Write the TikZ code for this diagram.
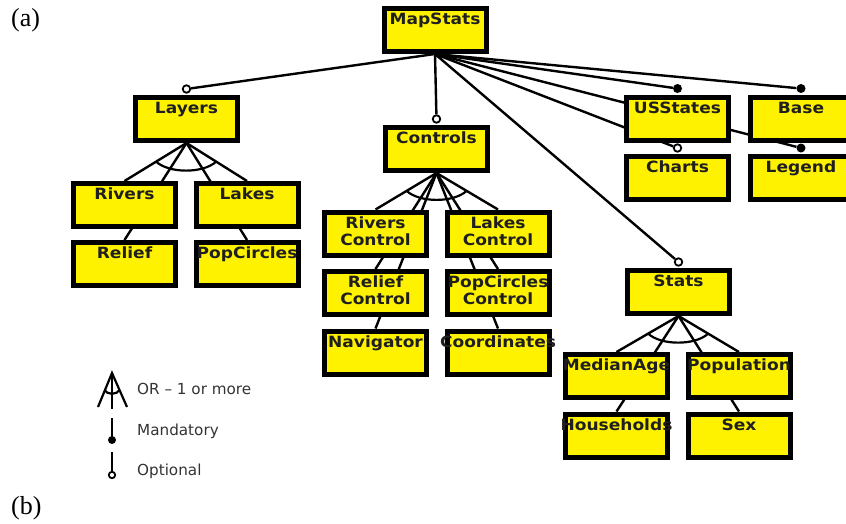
\documentclass[tikz,border=0pt]{standalone}
\usepackage{fontspec}
\setmainfont{DejaVu Sans}
\newfontfamily\boxfont{DejaVu Sans}[FakeStretch=1.1]
\newfontfamily\capfont{Liberation Serif}
\usetikzlibrary{calc}
\pgfdeclarelayer{bg}
\pgfsetlayers{bg,main}
\tikzset{
  feat/.style={draw=black, line width=5pt, fill=yellow, minimum width=102pt,
    minimum height=43pt, inner sep=0pt},
  feattext/.style={anchor=north, inner sep=0pt, align=center,
    font=\boxfont\bfseries\fontsize{15.5}{17}\selectfont, text=black!88},
  conn/.style={line width=2.4pt, black},
  orline/.style={line width=2.2pt, black},
  opt/.style={draw=black, fill=white, line width=1.8pt, circle, inner sep=0pt, minimum size=7.5pt},
  mand/.style={fill=black, circle, inner sep=0pt, minimum size=9pt},
  legtext/.style={anchor=base west, inner sep=0pt, text=black!80,
    font=\fontsize{15.2}{18}\selectfont},
  captext/.style={anchor=base west, inner sep=0pt, font=\capfont\fontsize{26}{30}\selectfont},
}
\newcommand\feature[4]{%
  \node[feat] (#1) at (#2,#3) {};
  \node[feattext] (#1-t) at ([yshift=-4.5pt]#1.north) {\rule{0pt}{14pt}#4};}
\newcommand\orarc[3]{%
  \coordinate (#1-A) at ($(#1.south)!0.49!(#2.north)$);
  \coordinate (#1-B) at ($(#1.south)!0.49!(#3.north)$);
  \draw[orline] (#1-A) .. controls ($(#1-A)+(13,12)$) and ($(#1-B)+(-13,12)$) .. (#1-B);}
\begin{document}
\begin{tikzpicture}[x=1pt,y=-1pt]
\useasboundingbox (0,0) rectangle (846,523);

% feature boxes
\feature{mapstats}{435}{30}{MapStats}
\feature{layers}{186.5}{119}{Layers}
\feature{controls}{436.5}{149}{Controls}
\feature{usstates}{677.5}{118.5}{USStates}
\feature{base}{801}{118.5}{Base}
\feature{charts}{677.5}{178}{Charts}
\feature{legend}{801}{178}{Legend}
\feature{stats}{678.5}{292}{Stats}
\feature{rivers}{124.5}{205}{Rivers}
\feature{lakes}{247}{205}{Lakes}
\feature{relief}{124.5}{264}{Relief}
\feature{popcircles}{247}{264}{PopCircles}
\feature{riversc}{375.5}{233.5}{Rivers\\Control}
\feature{lakesc}{498}{233.5}{Lakes\\Control}
\feature{reliefc}{375.5}{293}{Relief\\Control}
\feature{popcirclesc}{498}{293}{PopCircles\\Control}
\feature{navigator}{375.5}{352.5}{Navigator}
\feature{coordinates}{498}{352.5}{Coordinates}
\feature{medianage}{616.5}{376}{MedianAge}
\feature{population}{739}{376}{Population}
\feature{households}{616.5}{435.5}{Households}
\feature{sex}{739}{435.5}{Sex}

% end markers
\node[opt]  (m-layers)   at ([yshift=6pt]layers.north) {};
\node[opt]  (m-controls) at ([yshift=6pt]controls.north) {};
\node[opt]  (m-stats)    at ([yshift=6pt]stats.north) {};
\node[opt]  (m-charts)   at ([yshift=6pt]charts.north) {};
\node[mand] (m-usstates) at ([yshift=6pt]usstates.north) {};
\node[mand] (m-base)     at ([yshift=6pt]base.north) {};
\node[mand] (m-legend)   at ([yshift=6pt]legend.north) {};

\begin{pgfonlayer}{bg}
  \foreach \c in {layers,controls,stats,charts,usstates,base,legend}
    \draw[conn] (mapstats.south) -- (m-\c);
  \foreach \c in {rivers,relief,lakes,popcircles}
    \draw[conn] (layers.south) -- (\c.north);
  \foreach \c in {riversc,reliefc,navigator,lakesc,popcirclesc,coordinates}
    \draw[conn] (controls.south) -- (\c.north);
  \foreach \c in {medianage,households,population,sex}
    \draw[conn] (stats.south) -- (\c.north);
\end{pgfonlayer}

\orarc{layers}{rivers}{lakes}
\orarc{controls}{riversc}{lakesc}
\orarc{stats}{medianage}{population}

% legend
\draw[orline] (98,407) -- (112,373) -- (127,407);
\draw[orline] (112,373) -- (112,409);
\draw[orline] (104.5,390) .. controls (107,395) and (117,395) .. (119.5,390);
\draw[orline] (112,418) -- (112,440);
\fill (112,440) circle (4pt);
\draw[orline] (112,452) -- (112,471);
\draw[black, fill=white, line width=1.8pt] (112,475) circle (3.2pt);
\node[legtext] (l-or)   at (137,394) {OR – 1 or more};
\node[legtext] (l-mand) at (137,435) {Mandatory};
\node[legtext] (l-opt)  at (137,475) {Optional};

\node[captext] (cap-a) at (11,26) {(a)};
\node[captext] (cap-b) at (11,514) {(b)};
\end{tikzpicture}
\end{document}
